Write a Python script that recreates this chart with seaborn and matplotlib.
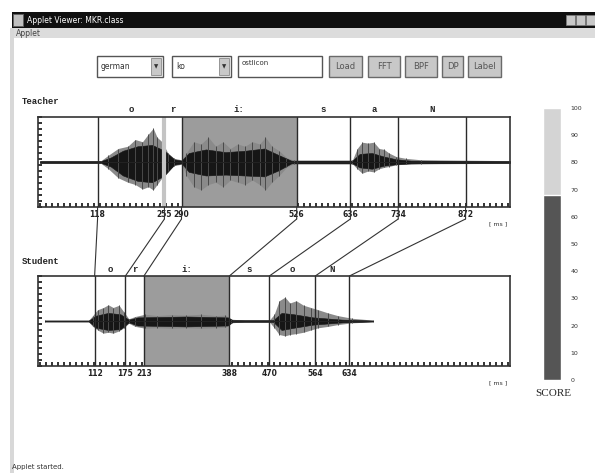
import numpy as np
import pandas as pd
import seaborn as sns
import matplotlib.pyplot as plt
from matplotlib.patches import Rectangle, ConnectionPatch
from matplotlib.transforms import blended_transform_factory

## data
# segment boundaries [ms]
teacher_bounds = [118, 255, 290, 526, 636, 734, 872]
student_bounds = [112, 175, 213, 388, 470, 564, 634]
teacher_phones = ['o', 'r', 'i:', 's', 'a', 'N']
student_phones = ['o', 'r', 'i:', 's', 'o', 'N']
teacher_shade = (290, 526)
student_shade = (213, 388)
teacher_selected = 255

# waveform envelopes (outer = grey peaks, core = dense black part)
t_ms = [0, 125, 140, 160, 180, 195, 210, 222, 232, 240, 250, 262, 275, 290, 300, 315, 330, 345, 360, 375, 390,
        405, 420, 435, 450, 462, 475, 490, 505, 520, 640, 650, 660, 672, 684, 695, 705, 715, 730, 750, 780, 964]
t_hi = [0.03, 0.03, 0.15, 0.3, 0.35, 0.5, 0.45, 0.62, 0.75, 0.55, 0.45, 0.2, 0.08, 0.05, 0.2, 0.45, 0.4, 0.55,
        0.35, 0.45, 0.3, 0.4, 0.35, 0.45, 0.4, 0.55, 0.35, 0.25, 0.1, 0.04, 0.04, 0.3, 0.44, 0.42, 0.44, 0.3, 0.28,
        0.2, 0.12, 0.08, 0.05, 0.03]
t_lo = [-0.03, -0.03, -0.15, -0.35, -0.45, -0.5, -0.6, -0.55, -0.62, -0.5, -0.35, -0.2, -0.08, -0.05, -0.3, -0.55,
        -0.62, -0.5, -0.45, -0.55, -0.4, -0.45, -0.5, -0.4, -0.5, -0.62, -0.45, -0.3, -0.12, -0.04, -0.04, -0.15,
        -0.25, -0.2, -0.22, -0.15, -0.12, -0.1, -0.06, -0.05, -0.04, -0.03]
t_core_ms = [0, 125, 145, 170, 200, 230, 255, 275, 290, 305, 340, 380, 420, 460, 490, 515, 640, 655, 680, 705,
             730, 760, 964]
t_core_hi = [0.02, 0.02, 0.1, 0.25, 0.35, 0.38, 0.25, 0.06, 0.03, 0.2, 0.28, 0.22, 0.25, 0.3, 0.15, 0.03, 0.03,
             0.18, 0.2, 0.12, 0.06, 0.03, 0.02]
t_core_lo = [-0.02, -0.02, -0.1, -0.3, -0.42, -0.45, -0.3, -0.06, -0.03, -0.22, -0.3, -0.28, -0.3, -0.32, -0.18,
             -0.03, -0.03, -0.12, -0.15, -0.08, -0.05, -0.03, -0.02]

s_ms = [10, 100, 108, 118, 130, 140, 150, 162, 172, 182, 195, 215, 240, 270, 300, 330, 360, 380, 392, 420, 470,
        480, 490, 502, 512, 525, 540, 555, 570, 590, 610, 640, 682]
s_hi = [0.02, 0.02, 0.12, 0.25, 0.3, 0.36, 0.3, 0.35, 0.2, 0.05, 0.1, 0.15, 0.12, 0.14, 0.13, 0.15, 0.12, 0.13,
        0.04, 0.02, 0.02, 0.15, 0.45, 0.53, 0.4, 0.45, 0.35, 0.3, 0.25, 0.18, 0.12, 0.06, 0.02]
s_lo = [-0.02, -0.02, -0.12, -0.2, -0.27, -0.25, -0.27, -0.22, -0.15, -0.05, -0.12, -0.16, -0.15, -0.16, -0.15,
        -0.16, -0.15, -0.14, -0.04, -0.02, -0.02, -0.15, -0.3, -0.33, -0.3, -0.28, -0.25, -0.2, -0.15, -0.12,
        -0.08, -0.04, -0.02]
s_core_ms = [10, 100, 115, 140, 165, 182, 200, 300, 385, 395, 478, 495, 520, 560, 620, 682]
s_core_hi = [0.01, 0.01, 0.12, 0.18, 0.15, 0.03, 0.08, 0.1, 0.08, 0.02, 0.02, 0.18, 0.15, 0.08, 0.03, 0.01]
s_core_lo = [-0.01, -0.01, -0.15, -0.2, -0.18, -0.03, -0.1, -0.12, -0.1, -0.02, -0.02, -0.2, -0.15, -0.08,
             -0.03, -0.01]

score = 68
score_ticks = [0, 10, 20, 30, 40, 50, 60, 70, 80, 90, 100]

## figure
sns.set_style('white')
plt.rcParams['font.family'] = ['DejaVu Sans']
W, H = 595, 473
fig = plt.figure(figsize=(W / 100, H / 100), dpi=100)


def fx(x):
    return x / W


def fy(y):
    return 1 - y / H


def box(x0, y0, x1, y1, **kw):
    fig.patches.append(Rectangle((fx(x0), fy(y1)), fx(x1 - x0), (y1 - y0) / H,
                                 transform=fig.transFigure, **kw))


# window chrome
box(12, 12, 595, 28, facecolor='#101010', edgecolor='none')
box(13, 14, 23, 26, facecolor='#c0c0c0', edgecolor='#606060', lw=0.6)
fig.text(fx(27), fy(20.5), 'Applet Viewer: MKR.class', color='white', fontsize=5.5, va='center')
for bx in [566, 576, 586]:
    box(bx, 15, bx + 9, 25, facecolor='#c8c8c8', edgecolor='#808080', lw=0.5)
box(12, 28, 595, 38, facecolor='#dcdcdc', edgecolor='none')
fig.text(fx(16), fy(33), 'Applet', color='#444', fontsize=5.5, va='center')
box(10, 28, 14, 473, facecolor='#d8d8d8', edgecolor='none')

# control row
for x0, x1, txt in [(97, 163, 'german'), (172, 231, 'ko')]:
    box(x0, 56, x1, 77, facecolor='white', edgecolor='#555', lw=1)
    box(x1 - 12, 58, x1 - 2, 75, facecolor='#c8c8c8', edgecolor='#777', lw=0.5)
    fig.text(fx(x1 - 7), fy(66.5), '▼', fontsize=4, ha='center', va='center', color='#333')
    fig.text(fx(x0 + 4), fy(66.5), txt, fontsize=5.5, va='center', color='#333')
box(238, 56, 322, 77, facecolor='white', edgecolor='#555', lw=1)
fig.text(fx(242), fy(63), 'ostlicon', fontsize=5, va='center', color='#333')
for x0, x1, txt in [(329, 362, 'Load'), (368, 400, 'FFT'), (405, 437, 'BPF'), (442, 463, 'DP'),
                    (468, 501, 'Label')]:
    box(x0, 56, x1, 77, facecolor='#c8c8c8', edgecolor='#6a6a6a', lw=1)
    fig.text(fx((x0 + x1) / 2), fy(66.5), txt, fontsize=6, ha='center', va='center', color='#555')

mono = dict(family='Liberation Mono', weight='bold')


def panel(top, bottom, bounds, phones, shade, env, core, label_name, selected=None):
    ax = fig.add_axes([fx(38), fy(bottom), fx(510 - 38), (bottom - top) / H])
    ax.set_xlim(-4, 963)
    ax.set_ylim(-1, 1)
    ax.axvspan(*shade, color='#9c9c9c', lw=0)
    ms, hi, lo = env
    ax.fill_between(ms, lo, hi, color='#8a8a8a', lw=0)
    ax.vlines(ms, lo, hi, color='#4a4a4a', lw=0.7)
    cms, chi, clo = core
    ax.fill_between(cms, clo, chi, color='#161616', lw=0.4)
    sns.lineplot(x=[ms[0], ms[-1]], y=[0, 0], color='#222', lw=0.8, ax=ax)
    for b in bounds:
        if b == selected:
            ax.axvline(b, color='#c4c4c4', lw=3)
        else:
            ax.axvline(b, color='#2a2a2a', lw=1.0)
    ax.set_xticks([])
    ax.set_yticks([])
    ax.set_xticks(np.arange(0, 964, 12.3), minor=True)
    ax.set_yticks(np.linspace(-1, 1, 16), minor=True)
    ax.tick_params(which='minor', direction='in', length=3, width=1.4, color='#333',
                   bottom=True, left=True)
    for s in ax.spines.values():
        s.set_color('#333')
        s.set_linewidth(1.2)
    tr = blended_transform_factory(ax.transData, fig.transFigure)
    for p, a, b in zip(phones, bounds[:-1], bounds[1:]):
        ax.text((a + b) / 2, fy(top - 7), p, transform=tr, ha='center', va='center', fontsize=6.5, **mono)
    for b in bounds:
        ax.text(b, fy(bottom + 7.5), str(b), transform=tr, ha='center', va='center', fontsize=5.5,
                weight='bold', color='#222')
    fig.text(fx(498), fy(bottom + 17), '[ ms ]', fontsize=4.5, ha='center', va='center', color='#333')
    fig.text(fx(22), fy(top - 15), label_name, fontsize=6.5, va='center', **mono)
    return ax


ax_t = panel(117, 207, teacher_bounds, teacher_phones, teacher_shade,
             (t_ms, t_hi, t_lo), (t_core_ms, t_core_hi, t_core_lo), 'Teacher', teacher_selected)
ax_s = panel(276, 366, student_bounds, student_phones, student_shade,
             (s_ms, s_hi, s_lo), (s_core_ms, s_core_hi, s_core_lo), 'Student')

# connections teacher -> student
tr_t = blended_transform_factory(ax_t.transData, fig.transFigure)
tr_s = blended_transform_factory(ax_s.transData, ax_s.transAxes)
tr_ta = blended_transform_factory(ax_t.transData, ax_t.transAxes)
for tb, sb in zip(teacher_bounds, student_bounds):
    fig.add_artist(ConnectionPatch((tb, 0), (tb, fy(219)), coordsA=tr_ta, coordsB=tr_t,
                                   color='#333', lw=0.8))
    fig.add_artist(ConnectionPatch((tb, fy(219)), (sb, 1), coordsA=tr_t, coordsB=tr_s,
                                   color='#333', lw=0.8))

# score bar
ax_sc = fig.add_axes([fx(543), fy(380), fx(561 - 543), (380 - 108) / H])
sns.barplot(x=['score'], y=[100], color='#d4d4d4', width=1, saturation=1, ax=ax_sc)
sns.barplot(x=['score'], y=[score], color='#555555', width=1, saturation=1, ax=ax_sc)
ax_sc.set_ylim(0, 100)
ax_sc.set_xlim(-0.5, 0.5)
ax_sc.set_xticks([])
ax_sc.set_xlabel('')
ax_sc.yaxis.tick_right()
ax_sc.set_yticks(score_ticks)
ax_sc.set_yticklabels([str(t) for t in score_ticks])
ax_sc.tick_params(axis='y', length=0, labelsize=4.5, pad=7, labelcolor='#333')
for s in ax_sc.spines.values():
    s.set_visible(False)
fig.text(fx(553), fy(393), 'SCORE', family='Liberation Serif', fontsize=8, ha='center', va='center')

fig.text(fx(12), fy(467), 'Applet started.', fontsize=5, va='center', color='#333')

fig.savefig('out.png', dpi=100)
